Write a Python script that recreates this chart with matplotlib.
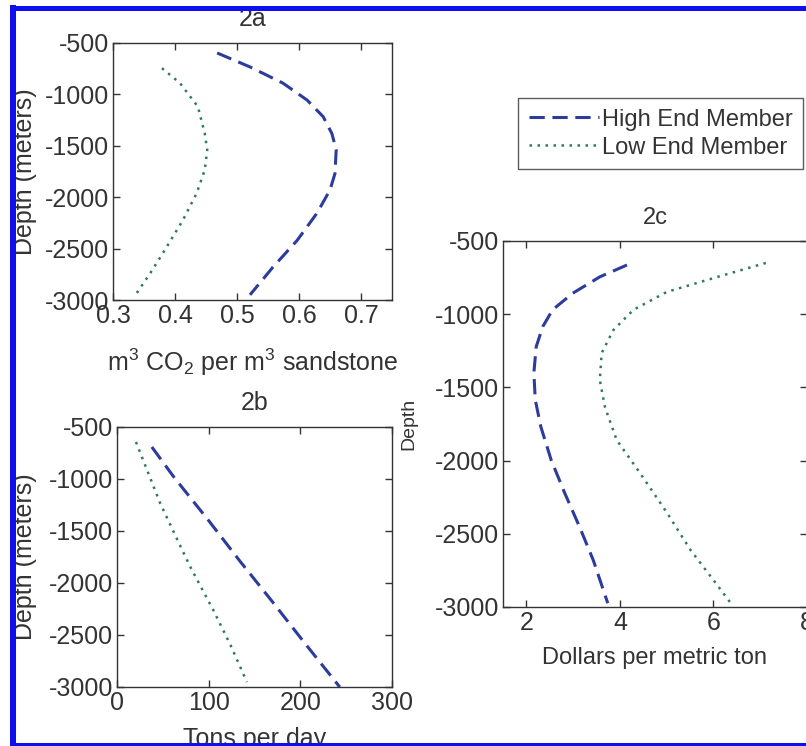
import matplotlib
matplotlib.use("Agg")
import matplotlib.pyplot as plt
from matplotlib.lines import Line2D

plt.rcParams['font.family'] = ['Liberation Sans', 'DejaVu Sans']
plt.rcParams['mathtext.fontset'] = 'custom'
plt.rcParams['mathtext.rm'] = 'Liberation Sans'

# ---- data ----
# 2a: m3 CO2 per m3 sandstone vs depth
a_high_x = [0.468, 0.521, 0.574, 0.613, 0.639, 0.653, 0.660, 0.658, 0.650, 0.629, 0.597, 0.558, 0.521]
a_high_y = [-597, -733, -890, -1055, -1217, -1380, -1540, -1770, -1930, -2155, -2420, -2680, -2950]
a_low_x = [0.379, 0.408, 0.437, 0.448, 0.452, 0.448, 0.435, 0.413, 0.384, 0.360, 0.338]
a_low_y = [-745, -890, -1120, -1380, -1540, -1735, -1960, -2220, -2510, -2740, -2935]

# 2b: tons per day vs depth
b_high_x = [38, 62, 100, 135, 168, 205, 243]
b_high_y = [-692, -981, -1400, -1800, -2163, -2580, -3000]
b_low_x = [20.7, 47, 64, 80, 105, 124, 141.7]
b_low_y = [-644, -1231, -1550, -1846, -2260, -2600, -2952]

# 2c: dollars per metric ton vs depth
c_high_x = [4.15, 3.57, 2.99, 2.56, 2.35, 2.21, 2.16, 2.19, 2.31, 2.53, 2.82, 3.14, 3.43, 3.74]
c_high_y = [-664, -745, -857, -970, -1085, -1222, -1400, -1585, -1770, -1996, -2222, -2455, -2680, -2974]
c_low_x = [7.12, 6.09, 5.00, 4.29, 3.86, 3.61, 3.57, 3.68, 3.93, 4.43, 5.01, 5.51, 6.00, 6.37]
c_low_y = [-650, -745, -848, -970, -1108, -1265, -1450, -1634, -1859, -2085, -2358, -2611, -2816, -2974]

y_ticks = [-500, -1000, -1500, -2000, -2500, -3000]
a_xticks = [0.3, 0.4, 0.5, 0.6, 0.7]
b_xticks = [0, 100, 200, 300]
c_xticks = [2, 4, 6, 8]

labels = ["High End Member", "Low End Member"]

HIGH_C = '#2c3c9c'
LOW_C = '#2f7a5c'
TXT = '#333333'
FS = 18

W, H = 806, 746
fig = plt.figure(figsize=(W / 100, H / 100), dpi=100)
fig.patch.set_facecolor('white')


def box(l, t, r, b):
    return [l / W, 1 - b / H, (r - l) / W, (b - t) / H]


def style(ax, fs=FS):
    ax.tick_params(direction='in', length=5, width=1, top=True, right=True,
                   labelsize=fs, colors=TXT, pad=3)
    for s in ax.spines.values():
        s.set_color('#333333')
        s.set_linewidth(1.0)


ax_a = fig.add_axes(box(113, 43, 392, 300))
ax_b = fig.add_axes(box(117, 427, 392, 687))
ax_c = fig.add_axes(box(503, 241, 807, 607))

dash = (0, (5, 2.5))
dot = (0, (1, 2.2))

la1, = ax_a.plot(a_high_x, a_high_y, color=HIGH_C, lw=2.2, linestyle=dash)
la2, = ax_a.plot(a_low_x, a_low_y, color=LOW_C, lw=1.8, linestyle=dot)
ax_a.set_xlim(0.3, 0.75)
ax_a.set_ylim(-3000, -500)
ax_a.set_xticks(a_xticks)
ax_a.set_xticklabels([str(v) for v in a_xticks])
ax_a.set_yticks(y_ticks)
ax_a.set_yticklabels([str(v) for v in y_ticks])
style(ax_a)
ax_a.set_title("2a", fontsize=18, color=TXT, pad=12)
ax_a.set_ylabel("Depth (meters)", fontsize=18, color=TXT)
ax_a.yaxis.set_label_coords(-0.272, 0.5)
ax_a.set_xlabel(r"m$^3$ CO$_2$ per m$^3$ sandstone", fontsize=18, color=TXT)
ax_a.xaxis.set_label_coords(0.5, -0.18)

ax_b.plot(b_high_x, b_high_y, color=HIGH_C, lw=2.2, linestyle=dash)
ax_b.plot(b_low_x, b_low_y, color=LOW_C, lw=1.8, linestyle=dot)
ax_b.set_xlim(0, 300)
ax_b.set_ylim(-3000, -500)
ax_b.set_xticks(b_xticks)
ax_b.set_xticklabels([str(v) for v in b_xticks])
ax_b.set_yticks(y_ticks)
ax_b.set_yticklabels([str(v) for v in y_ticks])
style(ax_b)
ax_b.set_title("2b", fontsize=18, color=TXT, pad=12)
ax_b.set_ylabel("Depth (meters)", fontsize=18, color=TXT)
ax_b.yaxis.set_label_coords(-0.29, 0.5)
ax_b.set_xlabel("Tons per day", fontsize=18, color=TXT)
ax_b.xaxis.set_label_coords(0.5, -0.152)

ax_c.plot(c_high_x, c_high_y, color=HIGH_C, lw=2.2, linestyle=dash)
ax_c.plot(c_low_x, c_low_y, color=LOW_C, lw=1.8, linestyle=dot)
ax_c.set_xlim(1.5, 8.0)
ax_c.set_ylim(-3000, -500)
ax_c.set_xticks(c_xticks)
ax_c.set_xticklabels([str(v) for v in c_xticks])
ax_c.set_yticks(y_ticks)
ax_c.set_yticklabels([str(v) for v in y_ticks])
style(ax_c)
ax_c.set_title("2c", fontsize=17, color=TXT, pad=12)
ax_c.set_ylabel("Depth", fontsize=14, color=TXT)
ax_c.yaxis.set_label_coords(-0.283, 0.5)
ax_c.set_xlabel("Dollars per metric ton", fontsize=17, color=TXT)
ax_c.xaxis.set_label_coords(0.5, -0.108)

leg = fig.legend([la1, la2], labels, loc='upper left',
                 bbox_to_anchor=(518 / W, 1 - 98 / H), borderaxespad=0,
                 fontsize=17, frameon=True, fancybox=False, handlelength=3.0,
                 handletextpad=0.1, borderpad=0.45, labelspacing=0.25,
                 labelcolor=TXT)
leg.get_frame().set_edgecolor('#333333')
leg.get_frame().set_linewidth(1.0)

# blue border around the image
bc = '#1010ee'
lw_pt = 5 * 72 / 100
fig.add_artist(Line2D([10 / W, 1.0], [1 - 7.5 / H, 1 - 7.5 / H], color=bc, lw=lw_pt,
                      transform=fig.transFigure, zorder=100, solid_capstyle='butt'))
fig.add_artist(Line2D([13 / W, 13 / W], [1 - 5 / H, 0], color=bc, lw=6 * 72 / 100,
                      transform=fig.transFigure, zorder=100, solid_capstyle='butt'))
fig.add_artist(Line2D([10 / W, 1.0], [1 - 744.5 / H, 1 - 744.5 / H], color=bc, lw=lw_pt,
                      transform=fig.transFigure, zorder=100, solid_capstyle='butt'))

fig.savefig("out.png", dpi=100)
